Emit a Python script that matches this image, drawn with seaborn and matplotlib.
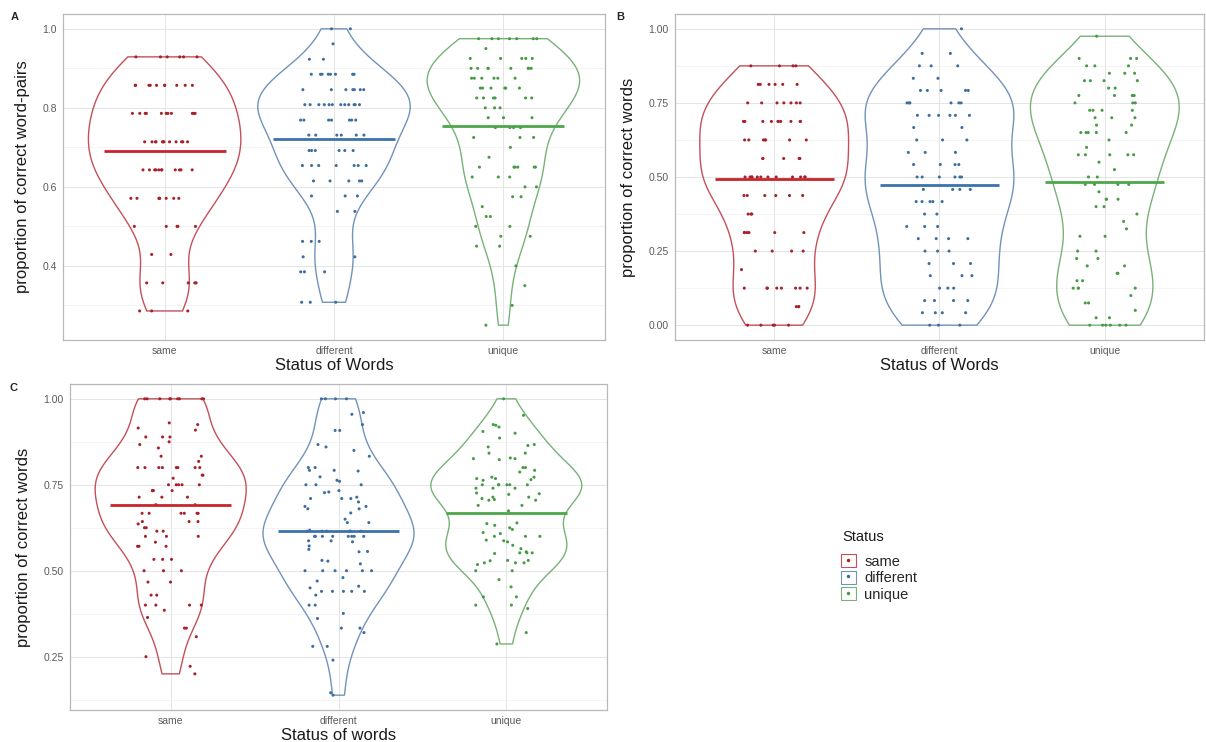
import numpy as np
import pandas as pd
import matplotlib
matplotlib.use('Agg')
import matplotlib.pyplot as plt
from matplotlib.patches import Patch
from matplotlib.lines import Line2D
from matplotlib.legend_handler import HandlerTuple
import seaborn as sns

# categories
status = ['same', 'different', 'unique']

# panel A: proportion of correct word-pairs (row values + number of points per row)
a_same_vals = [0.929, 0.857, 0.786, 0.714, 0.643, 0.571, 0.5, 0.429, 0.357, 0.286]
a_same_counts = [6, 10, 11, 12, 11, 8, 5, 2, 5, 3]
a_diff_vals = [1.0, 0.962, 0.923, 0.885, 0.846, 0.808, 0.769, 0.731, 0.692, 0.654,
               0.615, 0.577, 0.538, 0.462, 0.423, 0.385, 0.308]
a_diff_counts = [2, 1, 2, 8, 7, 12, 7, 6, 6, 7, 5, 3, 2, 3, 2, 3, 3]
a_uniq_vals = [0.975, 0.95, 0.925, 0.9, 0.875, 0.85, 0.825, 0.8, 0.775, 0.75, 0.725,
               0.7, 0.675, 0.65, 0.625, 0.6, 0.575, 0.55, 0.525, 0.5, 0.475, 0.45,
               0.4, 0.35, 0.3, 0.25]
a_uniq_counts = [7, 1, 5, 8, 6, 6, 6, 3, 3, 4, 3, 1, 1, 6, 3, 2, 2, 1, 2, 2, 2, 2, 1, 1, 1, 1]
a_means = [0.691, 0.722, 0.754]

# panel B: proportion of correct words
b_same_vals = [0.875, 0.8125, 0.75, 0.6875, 0.625, 0.5625, 0.5, 0.4375, 0.375, 0.3125,
               0.25, 0.1875, 0.125, 0.0625, 0.0]
b_same_counts = [4, 6, 7, 10, 7, 5, 12, 6, 3, 6, 4, 1, 8, 3, 5]
b_diff_vals = [1.0, 0.917, 0.875, 0.833, 0.792, 0.75, 0.708, 0.667, 0.625, 0.583, 0.542,
               0.5, 0.458, 0.417, 0.375, 0.333, 0.292, 0.25, 0.208, 0.167, 0.125, 0.083,
               0.042, 0.0]
b_diff_counts = [1, 2, 3, 2, 5, 6, 6, 2, 3, 3, 4, 6, 4, 5, 2, 3, 4, 3, 3, 3, 3, 4, 4, 3]
b_uniq_vals = [0.975, 0.9, 0.875, 0.85, 0.825, 0.8, 0.775, 0.75, 0.725, 0.7, 0.675, 0.65,
               0.625, 0.6, 0.575, 0.55, 0.525, 0.5, 0.475, 0.45, 0.425, 0.4, 0.375, 0.35,
               0.325, 0.3, 0.25, 0.225, 0.2, 0.175, 0.15, 0.125, 0.1, 0.075, 0.05, 0.025, 0.0]
b_uniq_counts = [1, 3, 3, 3, 4, 2, 5, 3, 4, 3, 2, 5, 1, 1, 5, 1, 1, 2, 4, 1, 3, 2, 1, 1,
                 1, 2, 2, 2, 2, 2, 2, 4, 1, 2, 1, 2, 6]
b_means = [0.494, 0.473, 0.482]

# panel C: proportion of correct words
c_same = [1.0, 1.0, 1.0, 1.0, 1.0, 1.0, 1.0, 1.0, 1.0, 0.93, 0.925, 0.915, 0.909, 0.889,
          0.889, 0.889, 0.875, 0.867, 0.857, 0.833, 0.833, 0.818, 0.8, 0.8, 0.8, 0.8, 0.8,
          0.8, 0.8, 0.8, 0.778, 0.778, 0.769, 0.75, 0.75, 0.75, 0.75, 0.75, 0.733, 0.733,
          0.733, 0.733, 0.714, 0.714, 0.714, 0.692, 0.692, 0.667, 0.667, 0.667, 0.667,
          0.667, 0.667, 0.643, 0.643, 0.643, 0.636, 0.625, 0.625, 0.615, 0.615, 0.6, 0.6,
          0.6, 0.583, 0.571, 0.571, 0.571, 0.533, 0.533, 0.533, 0.5, 0.5, 0.5, 0.467,
          0.467, 0.429, 0.429, 0.4, 0.4, 0.4, 0.4, 0.385, 0.364, 0.333, 0.333, 0.308,
          0.25, 0.222, 0.2]
c_diff = [1.0, 1.0, 1.0, 1.0, 0.96, 0.955, 0.925, 0.908, 0.908, 0.867, 0.86, 0.85, 0.833,
          0.8, 0.8, 0.792, 0.792, 0.79, 0.773, 0.763, 0.76, 0.75, 0.75, 0.75, 0.733, 0.729,
          0.727, 0.714, 0.71, 0.71, 0.71, 0.7, 0.687, 0.687, 0.68, 0.68, 0.668, 0.65, 0.64,
          0.64, 0.618, 0.615, 0.615, 0.615, 0.615, 0.615, 0.615, 0.6, 0.6, 0.6, 0.6, 0.6,
          0.6, 0.6, 0.6, 0.587, 0.587, 0.584, 0.572, 0.562, 0.556, 0.555, 0.53, 0.528,
          0.52, 0.5, 0.5, 0.5, 0.5, 0.5, 0.5, 0.48, 0.47, 0.455, 0.45, 0.44, 0.44, 0.44,
          0.44, 0.44, 0.429, 0.4, 0.4, 0.376, 0.361, 0.333, 0.333, 0.32, 0.28, 0.28, 0.24,
          0.145, 0.138]
c_uniq = [1.0, 0.952, 0.925, 0.923, 0.918, 0.905, 0.9, 0.886, 0.867, 0.864, 0.86, 0.842,
          0.842, 0.828, 0.826, 0.826, 0.823, 0.8, 0.8, 0.792, 0.787, 0.772, 0.772, 0.768,
          0.768, 0.765, 0.763, 0.75, 0.75, 0.75, 0.75, 0.75, 0.75, 0.74, 0.74, 0.74, 0.726,
          0.724, 0.722, 0.714, 0.714, 0.71, 0.707, 0.705, 0.705, 0.69, 0.69, 0.674, 0.639,
          0.637, 0.632, 0.625, 0.62, 0.611, 0.608, 0.6, 0.6, 0.6, 0.589, 0.587, 0.584,
          0.574, 0.564, 0.555, 0.552, 0.552, 0.552, 0.55, 0.53, 0.53, 0.529, 0.523, 0.523,
          0.523, 0.518, 0.5, 0.5, 0.474, 0.453, 0.424, 0.424, 0.4, 0.4, 0.39, 0.32, 0.287]
c_means = [0.692, 0.616, 0.668]

line_colors = ['#C9242B', '#3A72AC', '#4CA64A']
outline_colors = ['#C4505A', '#7193BA', '#78B277']
point_colors = ['#A8202A', '#3D6E9E', '#479A46']

sns.set_style('white')
plt.rcParams['font.family'] = ['Liberation Sans', 'DejaVu Sans']

W, H = 1206, 742
fig = plt.figure(figsize=(W / 100, H / 100), dpi=100)


def px_axes(l, t, r, b):
    return fig.add_axes([l / W, 1 - b / H, (r - l) / W, (b - t) / H])


def nrd0(kde):
    # R's default bandwidth (bw.nrd0), as used by geom_violin
    x = kde.dataset.ravel()
    sd = x.std(ddof=1)
    q75, q25 = np.percentile(x, [75, 25])
    h = 0.9 * min(sd, (q75 - q25) / 1.34) * len(x) ** -0.2
    return h / sd


def panel(ax, groups, means, yticks, yminor, ylabel, xlabel, fmt):
    df = pd.DataFrame({
        'status': np.repeat(status, [len(g) for g in groups]),
        'value': np.concatenate(groups),
    })
    sns.violinplot(data=df, x='status', y='value', hue='status', order=status,
                   hue_order=status, palette=outline_colors, fill=False, inner=None,
                   cut=0, density_norm='area', width=0.9, bw_method=nrd0,
                   linewidth=1.0, legend=False, ax=ax)
    sns.stripplot(data=df, x='status', y='value', hue='status', order=status,
                  hue_order=status, palette=point_colors, jitter=0.2, size=2.2,
                  linewidth=0, legend=False, ax=ax)
    pos = np.arange(len(status))
    ax.hlines(means, pos - 0.36, pos + 0.36, colors=line_colors, linewidth=2.0, zorder=5)

    ax.set_xlim(-0.6, 2.6)
    ax.set_yticks(yticks)
    ax.set_yticklabels([fmt.format(t) for t in yticks])
    ax.set_yticks(yminor, minor=True)
    ax.set_axisbelow(True)
    ax.grid(which='major', color='#e4e4e4', linewidth=0.7)
    ax.grid(which='minor', axis='y', color='#f0f0f0', linewidth=0.5)
    ax.tick_params(axis='both', which='major', length=2.5, width=0.6, color='#b3b3b3',
                   labelsize=7.5, labelcolor='#5a5a5a', pad=2)
    ax.tick_params(axis='y', which='minor', length=0)
    for s in ax.spines.values():
        s.set_visible(True)
        s.set_color('#b8b8b8')
        s.set_linewidth(0.9)
    ax.set_ylabel(ylabel, fontsize=12, color='#1a1a1a', labelpad=9)
    ax.set_xlabel(xlabel, fontsize=12, color='#1a1a1a', labelpad=1)


np.random.seed(7)

axA = px_axes(63, 14, 605, 340)
panel(axA,
      [np.repeat(a_same_vals, a_same_counts), np.repeat(a_diff_vals, a_diff_counts),
       np.repeat(a_uniq_vals, a_uniq_counts)],
      a_means, [0.4, 0.6, 0.8, 1.0], [0.3, 0.5, 0.7, 0.9],
      'proportion of correct word-pairs', 'Status of Words', '{:.1f}')

axB = px_axes(675, 14, 1204, 340)
panel(axB,
      [np.repeat(b_same_vals, b_same_counts), np.repeat(b_diff_vals, b_diff_counts),
       np.repeat(b_uniq_vals, b_uniq_counts)],
      b_means, [0.0, 0.25, 0.5, 0.75, 1.0], [0.125, 0.375, 0.625, 0.875],
      'proportion of correct words', 'Status of Words', '{:.2f}')

axC = px_axes(70, 384, 607, 710)
panel(axC, [c_same, c_diff, c_uniq],
      c_means, [0.25, 0.5, 0.75, 1.0], [0.125, 0.375, 0.625, 0.875],
      'proportion of correct words', 'Status of words', '{:.2f}')

for letter, x, y in [('A', 15, 17), ('B', 620, 17), ('C', 14, 388)]:
    fig.text(x / W, 1 - y / H, letter, fontsize=8, fontweight='bold', ha='center', va='center')

# legend: title as its own text so the gap under it matches the reference
fig.text(842 / W, 1 - 537 / H, 'Status', fontsize=10.5, color='#1a1a1a', ha='left', va='center')
handles = [(Patch(facecolor='white', edgecolor=oc, linewidth=0.8),
            Line2D([], [], ls='', marker='o', ms=1.5, color=pc))
           for oc, pc in zip(outline_colors, point_colors)]
fig.legend(handles=handles, labels=status, handler_map={tuple: HandlerTuple(ndivide=1)},
           loc='upper left', bbox_to_anchor=(841 / W, 1 - 554 / H),
           frameon=False, fontsize=10.5, handlelength=1.0,
           handleheight=1.0, labelspacing=0.15, handletextpad=0.6,
           borderaxespad=0, borderpad=0)

fig.savefig('out.png', dpi=100)
